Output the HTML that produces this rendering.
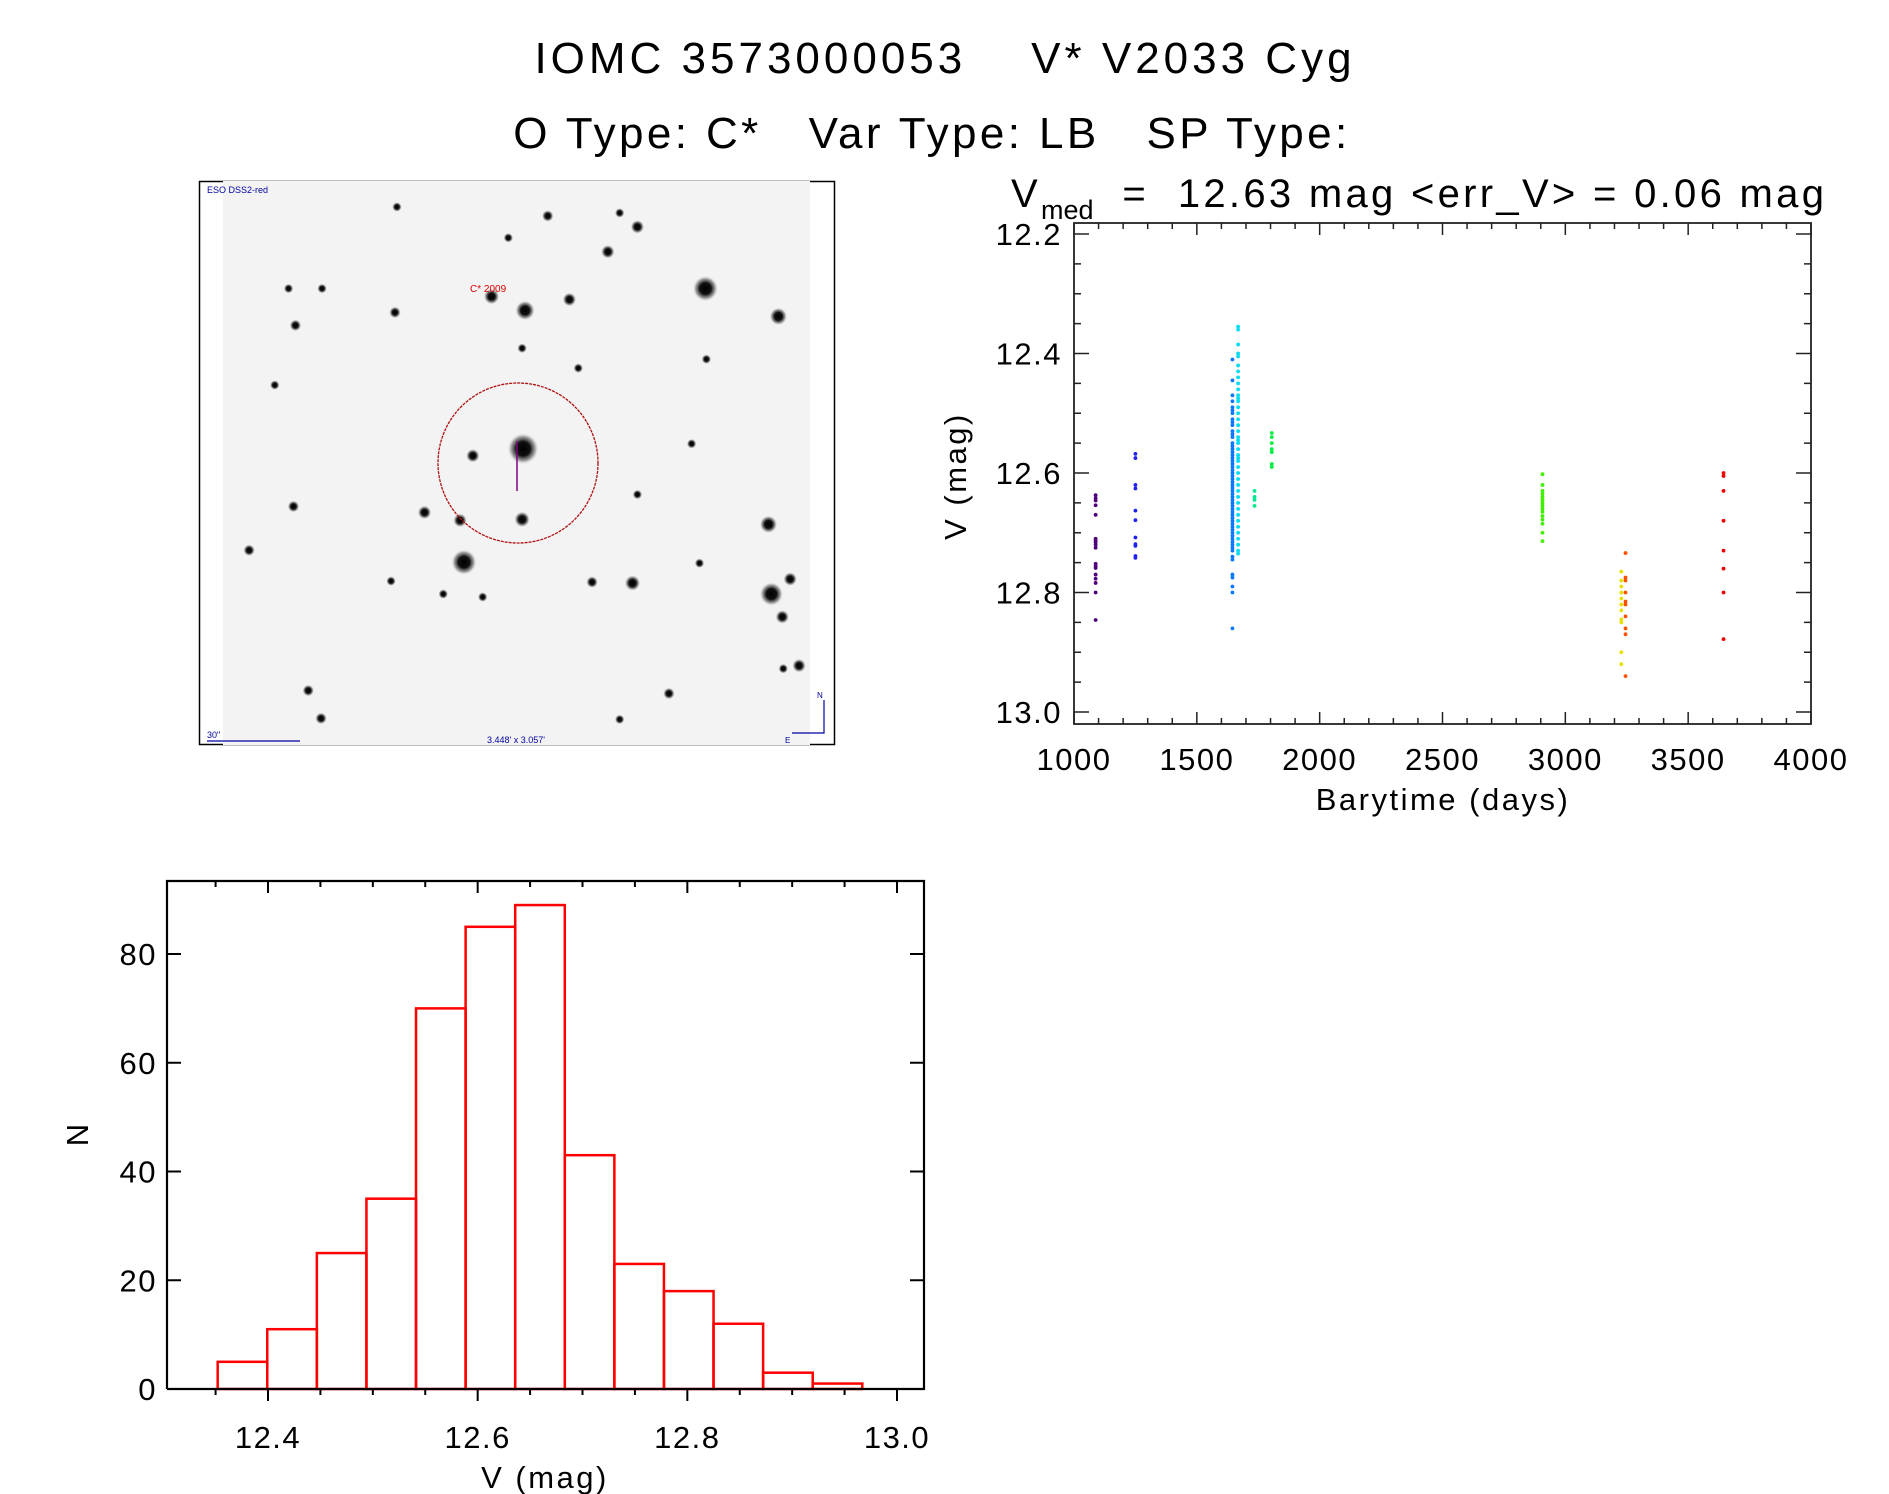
<!DOCTYPE html>
<html><head><meta charset="utf-8"><style>
html,body{margin:0;padding:0;background:#fff;}
svg{display:block;font-family:"Liberation Sans",sans-serif;}
</style></head><body>
<svg id="root" width="1889" height="1494" viewBox="0 0 1889 1494" xmlns="http://www.w3.org/2000/svg">
<defs>
<radialGradient id="starG"><stop offset="0" stop-color="#000"/><stop offset="0.45" stop-color="#111"/><stop offset="0.75" stop-color="#777" stop-opacity="0.7"/><stop offset="1" stop-color="#eee" stop-opacity="0"/></radialGradient>
</defs>
<text x="945" y="73" font-size="44" letter-spacing="4" text-anchor="middle" xml:space="preserve">IOMC 3573000053    V* V2033 Cyg</text>
<text x="932" y="148" font-size="44" letter-spacing="3.4" text-anchor="middle" xml:space="preserve">O Type: C*   Var Type: LB   SP Type:</text>
<text x="1011" y="207" font-size="40" letter-spacing="3.3" xml:space="preserve">V<tspan font-size="27" dy="12" letter-spacing="0">med</tspan><tspan dy="-12">  =  12.63 mag &lt;err_V&gt; = 0.06 mag</tspan></text>

<g id="finder">
<rect x="199.5" y="181.5" width="635" height="563" fill="#fff" stroke="#000" stroke-width="1.5"/>
<rect x="223" y="181" width="587" height="564" fill="#f3f3f3"/>
<g id="stars" transform="translate(190,0) scale(0.9855,0.995) translate(-190,0)"></g>
<ellipse cx="518" cy="463" rx="80" ry="80" fill="none" stroke="#b01010" stroke-width="1.3" stroke-dasharray="3,1"/>
<line x1="517" y1="441" x2="517" y2="491" stroke="#800080" stroke-width="1.5"/>
<text x="470" y="292" font-size="10" fill="#d00">C* 2009</text>
<text x="207" y="193" font-size="9" fill="#0000a0">ESO DSS2-red</text>
<text x="207" y="738" font-size="9" fill="#0000a0">30"</text>
<line x1="207" y1="741" x2="300" y2="741" stroke="#0000a0" stroke-width="1.2"/>
<text x="487" y="743" font-size="9" fill="#0000a0">3.448' x 3.057'</text>
<polyline points="792,733 824,733 824,700" fill="none" stroke="#0000a0" stroke-width="1.2"/>
<text x="817" y="698" font-size="8" fill="#0000a0">N</text>
<text x="785" y="743" font-size="8" fill="#0000a0">E</text>
</g>

<g id="lc"></g>
<g id="hist"></g>
</svg>
<script>
// ---------- Finder chart stars (image content) ----------
const starX = [713,787,530,496,575,644,614,553,626,398,297,276,527,584,714,528,477,527,464,428,468,639,598,777,780,799,791,808,792,676,250,295,310,323,626,447,487,394,707,699,644,400,513,290,324];
const starY = [290,318,312,298,301,228,253,217,214,314,327,387,350,370,361,451,458,522,523,515,565,586,585,527,597,582,620,669,672,697,553,509,694,722,723,597,600,584,566,446,497,208,239,290,290];
const starR = [13,9,10,8,7,7,7,6,5,6,6,5,5,5,5,16,7,8,7,7,13,8,6,9,12,7,7,7,5,6,6,6,6,6,5,5,5,5,5,5,5,5,5,5,5];
const sg = document.getElementById('stars');
for (let i = 0; i < starX.length; i++) {
  const c = document.createElementNS('http://www.w3.org/2000/svg','circle');
  c.setAttribute('cx', starX[i]); c.setAttribute('cy', starY[i]); c.setAttribute('r', starR[i]);
  c.setAttribute('fill', 'url(#starG)');
  
  
  sg.appendChild(c);
}

// ---------- Light curve data ----------
const lcDays = [1088, 1250, 1645, 1668, 1735, 1805, 2907, 3228, 3245, 3644];
const lcColors = ['#50007a','#2020f0','#0a78ff','#00dcf0','#00e890','#00f040','#40f000','#e8e000','#ff5000','#f00000'];
const lcMags = [
  [12.637,12.642,12.646,12.654,12.67,12.71,12.713,12.716,12.72,12.725,12.752,12.756,12.759,12.77,12.777,12.784,12.80,12.846],
  [12.568,12.575,12.62,12.626,12.663,12.679,12.708,12.719,12.722,12.739,12.742],
  [12.41,12.445,12.47,12.48,12.49,12.495,12.50,12.51,12.515,12.52,12.53,12.535,12.54,12.55,12.555,12.56,12.565,12.57,12.575,12.58,12.585,12.59,12.595,12.60,12.605,12.61,12.615,12.62,12.625,12.63,12.635,12.64,12.645,12.65,12.655,12.66,12.665,12.67,12.675,12.68,12.685,12.69,12.695,12.70,12.705,12.71,12.715,12.72,12.725,12.73,12.74,12.745,12.77,12.775,12.79,12.80,12.86],
  [12.355,12.36,12.385,12.40,12.405,12.42,12.43,12.44,12.45,12.46,12.47,12.475,12.48,12.49,12.50,12.51,12.52,12.53,12.54,12.545,12.55,12.56,12.57,12.575,12.58,12.59,12.60,12.61,12.62,12.63,12.64,12.65,12.66,12.67,12.68,12.69,12.70,12.71,12.72,12.73,12.735],
  [12.63,12.64,12.645,12.655],
  [12.533,12.54,12.55,12.56,12.565,12.585,12.59],
  [12.602,12.62,12.63,12.635,12.64,12.645,12.65,12.655,12.66,12.665,12.672,12.678,12.685,12.70,12.714],
  [12.765,12.78,12.79,12.80,12.81,12.82,12.83,12.845,12.85,12.90,12.92],
  [12.734,12.775,12.78,12.80,12.815,12.82,12.84,12.86,12.87,12.94],
  [12.60,12.605,12.63,12.68,12.73,12.76,12.80,12.878]
];
const lcXTicks = [1000,1500,2000,2500,3000,3500,4000];
const lcYTicks = [12.2,12.4,12.6,12.8,13.0];

// ---------- Histogram data ----------
const histStart = 12.352, histWidth = 0.0473;
const histCounts = [5,11,25,35,70,85,89,43,23,18,12,3,1];
const histXTicks = [12.4,12.6,12.8,13.0];
const histYTicks = [0,20,40,60,80];

const NS = 'http://www.w3.org/2000/svg';
function mk(tag, attrs, parent) { const e = document.createElementNS(NS, tag); for (const k in attrs) e.setAttribute(k, attrs[k]); parent.appendChild(e); return e; }

// ---------- Light curve plot ----------
(function(){
  const g = document.getElementById('lc');
  const L = 1074, R = 1811, T = 223, B = 724;
  const xs = d => L + (d - 1000) * (R - L) / 3000;
  const ys = v => 234 + (v - 12.2) * (712 - 234) / 0.8;
  const frame = mk('rect', {x:L, y:T, width:R-L, height:B-T, fill:'none', stroke:'#222', 'stroke-width':1.8}, g);
  
  
  for (let d = 1000; d <= 4000; d += 100) {
    const major = (d % 500 === 0);
    const len = major ? 12 : 6;
    const x = xs(d);
    const t1 = mk('line', {x1:x, y1:B, x2:x, y2:B-len, stroke:'#222', 'stroke-width':1.5}, g);
    
    
    const t2 = mk('line', {x1:x, y1:T, x2:x, y2:T+len, stroke:'#222', 'stroke-width':1.5}, g);
    
    
  }
  for (let k = 0; k <= 16; k++) {
    const v = 12.2 + k * 0.05;
    const major = (k % 4 === 0);
    const len = major ? 15 : 7;
    const y = ys(v);
    const t1 = mk('line', {x1:L, y1:y, x2:L+len, y2:y, stroke:'#222', 'stroke-width':1.5}, g);
    
    
    const t2 = mk('line', {x1:R, y1:y, x2:R-len, y2:y, stroke:'#222', 'stroke-width':1.5}, g);
    
    
  }
  lcXTicks.forEach(d => {
    const t = mk('text', {x:xs(d), y:770, 'font-size':31, 'letter-spacing':1.5, 'text-anchor':'middle'}, g);
    t.textContent = d;
    
    
  });
  lcYTicks.forEach(v => {
    const t = mk('text', {x:1062, y:ys(v)+11, 'font-size':31, 'letter-spacing':1.5, 'text-anchor':'end'}, g);
    t.textContent = v.toFixed(1);
    
    
  });
  const xt = mk('text', {x:1443, y:810, 'font-size':31, 'letter-spacing':2.5, 'text-anchor':'middle'}, g);
  xt.textContent = 'Barytime (days)';
  
  
  const yt = mk('text', {x:0, y:0, 'font-size':31, 'letter-spacing':2.5, 'text-anchor':'middle', transform:'translate(966,476) rotate(-90)'}, g);
  yt.textContent = 'V (mag)';
  
  
  for (let s = 0; s < lcDays.length; s++) {
    lcMags[s].forEach(v => {
      const c = mk('circle', {cx:xs(lcDays[s]), cy:ys(v), r:1.9, fill:lcColors[s]}, g);
      
      
    });
  }
})();

// ---------- Histogram plot ----------
(function(){
  const g = document.getElementById('hist');
  const L = 167, R = 924, T = 881, B = 1389;
  const xs = v => 268 + (v - 12.4) * (897 - 268) / 0.6;
  const ys = n => B - n * (B - 954) / 80;
  for (let i = 0; i < histCounts.length; i++) {
    const x0 = xs(histStart + i * histWidth), x1 = xs(histStart + (i + 1) * histWidth);
    const r = mk('rect', {x:x0, y:ys(histCounts[i]), width:x1-x0, height:B-ys(histCounts[i]), fill:'none', stroke:'#ff0000', 'stroke-width':2.5}, g);
    
    
  }
  const frame = mk('path', {d:`M${L},${B} L${L},${T} L${R},${T} L${R},${B} L${L},${B}`, fill:'none', stroke:'#000', 'stroke-width':2.2}, g);
  
  
  for (let k = 0; k <= 13; k++) {
    const v = 12.35 + k * 0.05;
    const major = Math.abs((v * 10) - Math.round(v * 10)) < 1e-6 && Math.round(v * 10) % 2 === 0;
    const x = xs(v);
    const t1 = mk('line', {x1:x, y1:B, x2:x, y2:B+(major?12:6), stroke:'#000', 'stroke-width':2}, g);
    
    
    const t2 = mk('line', {x1:x, y1:T, x2:x, y2:T+(major?12:6), stroke:'#000', 'stroke-width':2}, g);
    
    
  }
  histYTicks.forEach(n => {
    const y = ys(n);
    const t1 = mk('line', {x1:L, y1:y, x2:L+14, y2:y, stroke:'#000', 'stroke-width':2}, g);
    
    
    const t2 = mk('line', {x1:R, y1:y, x2:R-14, y2:y, stroke:'#000', 'stroke-width':2}, g);
    
    
    const t = mk('text', {x:157, y:y+11, 'font-size':31, 'letter-spacing':1.5, 'text-anchor':'end'}, g);
    t.textContent = n;
    
    
  });
  histXTicks.forEach(v => {
    const t = mk('text', {x:xs(v), y:1448, 'font-size':31, 'letter-spacing':1.5, 'text-anchor':'middle'}, g);
    t.textContent = v.toFixed(1);
    
    
  });
  const xt = mk('text', {x:545, y:1488, 'font-size':31, 'letter-spacing':2.5, 'text-anchor':'middle'}, g);
  xt.textContent = 'V (mag)';
  
  
  const yt = mk('text', {x:0, y:0, 'font-size':31, 'text-anchor':'middle', transform:'translate(88,1135) rotate(-90)'}, g);
  yt.textContent = 'N';
  
  
})();
</script>
</body></html>
